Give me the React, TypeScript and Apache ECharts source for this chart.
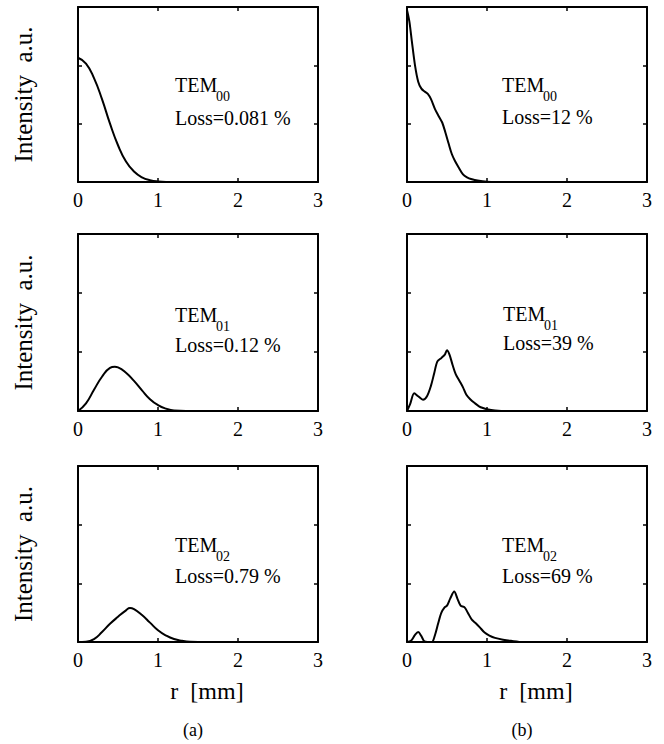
import React, { useEffect, useRef } from "react";
import * as echarts from "echarts";

// ---- data (r in mm, intensity in a.u.) ----
const rA0 = [0, 0.1, 0.2, 0.3, 0.4, 0.5, 0.6, 0.7, 0.8, 0.9, 1.0, 1.2, 1.5, 2, 2.5, 3];
const vA0 = [2.13, 2.03, 1.78, 1.42, 1.0, 0.63, 0.35, 0.18, 0.08, 0.03, 0.01, 0, 0, 0, 0, 0];

const rA1 = [0, 0.1, 0.2, 0.3, 0.4, 0.46, 0.5, 0.6, 0.7, 0.8, 0.9, 1.0, 1.1, 1.2, 1.5, 3];
const vA1 = [0, 0.13, 0.36, 0.58, 0.73, 0.75, 0.74, 0.65, 0.51, 0.35, 0.2, 0.1, 0.04, 0.01, 0, 0];

const rA2 = [0, 0.1, 0.2, 0.3, 0.4, 0.5, 0.6, 0.65, 0.7, 0.8, 0.9, 1.0, 1.1, 1.2, 1.3, 1.4, 1.6, 3];
const vA2 = [0, 0.005, 0.05, 0.17, 0.31, 0.43, 0.54, 0.58, 0.56, 0.46, 0.33, 0.2, 0.11, 0.05, 0.02, 0.005, 0, 0];

const rB0 = [0, 0.03, 0.06, 0.1, 0.14, 0.18, 0.22, 0.26, 0.3, 0.35, 0.4, 0.44, 0.48, 0.52, 0.56, 0.6, 0.65, 0.7, 0.75, 0.8, 0.9, 1.0, 1.1, 3];
const vB0 = [2.95, 2.75, 2.42, 2.0, 1.72, 1.6, 1.55, 1.51, 1.42, 1.25, 1.12, 1.02, 0.85, 0.66, 0.48, 0.36, 0.24, 0.13, 0.08, 0.05, 0.02, 0.005, 0, 0];

const rB1 = [0, 0.04, 0.09, 0.14, 0.2, 0.25, 0.3, 0.34, 0.38, 0.43, 0.47, 0.5, 0.53, 0.57, 0.61, 0.66, 0.7, 0.74, 0.79, 0.85, 0.9, 0.95, 1.0, 1.1, 1.25, 3];
const vB1 = [0, 0.12, 0.3, 0.25, 0.19, 0.25, 0.43, 0.64, 0.84, 0.9, 0.95, 1.03, 0.96, 0.78, 0.62, 0.5, 0.4, 0.28, 0.2, 0.13, 0.08, 0.05, 0.03, 0.01, 0, 0];

const rB2 = [0, 0.05, 0.1, 0.14, 0.18, 0.22, 0.31, 0.35, 0.39, 0.43, 0.47, 0.5, 0.54, 0.59, 0.63, 0.67, 0.72, 0.76, 0.81, 0.86, 0.91, 0.97, 1.03, 1.1, 1.2, 1.3, 1.45, 3];
const vB2 = [0, 0.02, 0.12, 0.17, 0.1, 0.01, 0, 0.12, 0.32, 0.5, 0.59, 0.62, 0.74, 0.86, 0.74, 0.62, 0.59, 0.5, 0.38, 0.32, 0.25, 0.16, 0.11, 0.07, 0.04, 0.02, 0, 0];

const modeSubs = ["00", "00", "01", "01", "02", "02"];
const lossLabels = ["Loss=0.081 %", "Loss=12 %", "Loss=0.12 %", "Loss=39 %", "Loss=0.79 %", "Loss=69 %"];
const xTitle = "r  [mm]";
const yTitle = "Intensity  a.u.";
const panelLetters = ["(a)", "(b)"];

const FONT = '"Liberation Serif", "Times New Roman", serif';

export default function App() {
  const ref = useRef<HTMLDivElement>(null);
  useEffect(() => {
    if (!ref.current) return;
    const chart = echarts.init(ref.current, null, { renderer: "svg" });

    const colLeft = [78, 407];
    const rows = [
      { top: 7, h: 175 },
      { top: 234, h: 177 },
      { top: 466, h: 176 },
    ];
    const panels = [
      [rA0, vA0],
      [rB0, vB0],
      [rA1, vA1],
      [rB1, vB1],
      [rA2, vA2],
      [rB2, vB2],
    ];
    const smoothness = [0.5, 0.3, 0.5, 0.3, 0.5, 0.3];
    // annotation anchors: [x, yTEM, yLoss]
    const ann = [
      [175, 85, 118],
      [502, 85, 117],
      [175, 315, 345],
      [503, 314, 343],
      [175, 545, 576],
      [502, 545, 576],
    ];

    const grids: any[] = [];
    const xAxes: any[] = [];
    const yAxes: any[] = [];
    const series: any[] = [];
    const graphics: any[] = [];

    const axisLine = { show: true, onZero: false, lineStyle: { color: "#000", width: 2 } };
    const axisTick = { show: true, inside: true, length: 4, lineStyle: { color: "#000", width: 1.5 } };

    for (let i = 0; i < 6; i++) {
      const row = Math.floor(i / 2);
      const col = i % 2;
      grids.push({
        left: colLeft[col],
        top: rows[row].top,
        width: 240,
        height: rows[row].h,
        containLabel: false,
      });
      const isBottomRow = row === 2;
      xAxes.push({
        type: "value",
        gridIndex: i,
        position: "bottom",
        min: 0,
        max: 3,
        interval: 1,
        axisLine,
        axisTick,
        splitLine: { show: false },
        axisLabel: { show: true, color: "#000", fontFamily: FONT, fontSize: 20, margin: 8 },
        name: isBottomRow ? xTitle : "",
        nameLocation: "middle",
        nameGap: 37,
        nameTextStyle: { color: "#000", fontFamily: FONT, fontSize: 24, padding: [0, 0, 0, 18] },
      });
      xAxes.push({
        type: "value",
        gridIndex: i,
        position: "top",
        min: 0,
        max: 3,
        interval: 1,
        axisLine,
        axisTick,
        splitLine: { show: false },
        axisLabel: { show: false },
      });
      yAxes.push({
        type: "value",
        gridIndex: i,
        position: "left",
        min: 0,
        max: 3,
        interval: 1,
        axisLine,
        axisTick,
        splitLine: { show: false },
        axisLabel: { show: false },
        name: col === 0 ? yTitle : "",
        nameLocation: "middle",
        nameRotate: 90,
        nameGap: 42,
        nameTextStyle: { color: "#000", fontFamily: FONT, fontSize: 25 },
      });
      yAxes.push({
        type: "value",
        gridIndex: i,
        position: "right",
        min: 0,
        max: 3,
        interval: 1,
        axisLine,
        axisTick,
        splitLine: { show: false },
        axisLabel: { show: false },
      });
      const [rs, vs] = panels[i];
      series.push({
        type: "line",
        xAxisIndex: 2 * i,
        yAxisIndex: 2 * i,
        data: rs.map((r, k) => [r, vs[k]]),
        showSymbol: false,
        smooth: smoothness[i],
        lineStyle: { color: "#000", width: 2 },
        clip: true,
      });
      const [ax, ayT, ayL] = ann[i];
      graphics.push({
        type: "text",
        x: ax,
        y: ayT,
        style: { text: "TEM", font: `20px ${FONT}`, fill: "#000", textAlign: "left", textVerticalAlign: "middle", verticalAlign: "middle" },
      });
      graphics.push({
        type: "text",
        x: ax + 41,
        y: ayT + 11,
        style: { text: modeSubs[i], font: `14px ${FONT}`, fill: "#000", textAlign: "left", textVerticalAlign: "middle", verticalAlign: "middle" },
      });
      graphics.push({
        type: "text",
        x: ax,
        y: ayL,
        style: { text: lossLabels[i], font: `20px ${FONT}`, fill: "#000", textAlign: "left", textVerticalAlign: "middle", verticalAlign: "middle" },
      });
    }

    graphics.push({
      type: "text",
      x: 193,
      y: 730,
      style: { text: panelLetters[0], font: `18px ${FONT}`, fill: "#000", textAlign: "center", textVerticalAlign: "middle", verticalAlign: "middle" },
    });
    graphics.push({
      type: "text",
      x: 522,
      y: 730,
      style: { text: panelLetters[1], font: `18px ${FONT}`, fill: "#000", textAlign: "center", textVerticalAlign: "middle", verticalAlign: "middle" },
    });

    chart.setOption({
      animation: false,
      backgroundColor: "#fff",
      grid: grids,
      xAxis: xAxes,
      yAxis: yAxes,
      series,
      graphic: graphics,
    });
    return () => chart.dispose();
  }, []);

  return (
    <div
      ref={ref}
      style={{ position: "absolute", left: 0, top: 0, width: 664, height: 744, background: "#fff" }}
    />
  );
}
